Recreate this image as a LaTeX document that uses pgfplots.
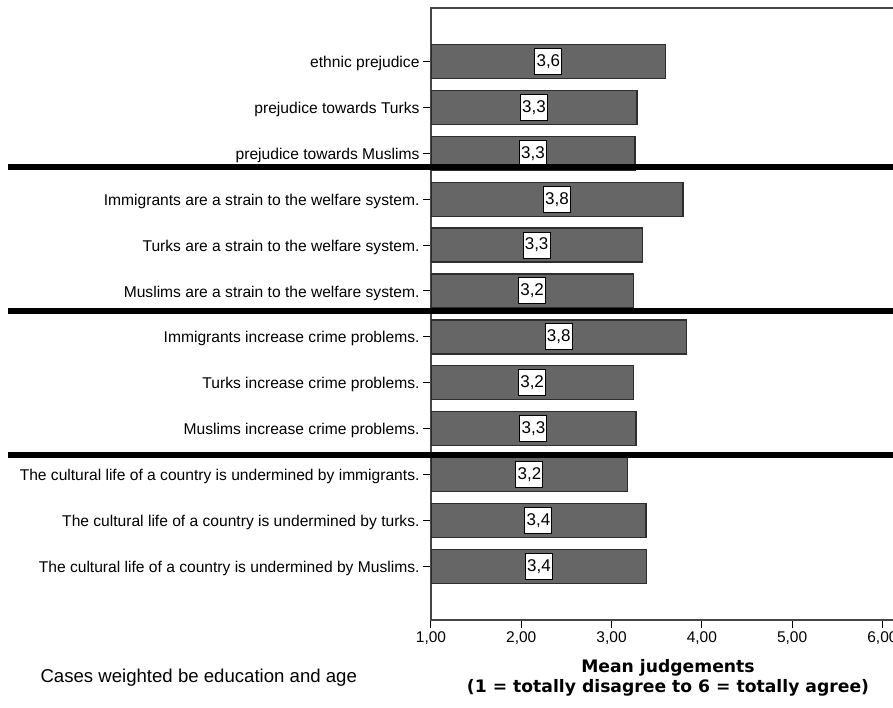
\documentclass[border=0pt]{standalone}
\usepackage{fontspec}
\setmainfont{Liberation Sans}
\newfontfamily\dejavu{DejaVu Sans}
\usepackage{pgfplots}
\pgfplotsset{compat=1.18}
\usepackage{pgfplotstable}
\definecolor{barfill}{RGB}{102,102,102}
\definecolor{barline}{RGB}{45,45,45}
\definecolor{axline}{RGB}{70,70,70}

\pgfplotstableread{
y v
12 3.60
11 3.28
10 3.26
9 3.79
8 3.34
7 3.24
6 3.83
5 3.24
4 3.27
3 3.18
2 3.38
1 3.39
}\meandata

\begin{document}
\begin{tikzpicture}
\begin{axis}[
  name=ax,
  at={(0pt,0pt)}, anchor=south west,
  scale only axis,
  width=474pt, height=612pt,
  xmin=1, xmax=6.25,
  ymin=-0.168, ymax=13.166,
  axis line style={axline, line width=1.2pt},
  xtick={1,2,3,4,5,6},
  ytick={1,2,3,4,5,6,7,8,9,10,11,12},
  yticklabels={
    The cultural life of a country is undermined by Muslims.,
    The cultural life of a country is undermined by turks.,
    The cultural life of a country is undermined by immigrants.,
    Muslims increase crime problems.,
    Turks increase crime problems.,
    Immigrants increase crime problems.,
    Muslims are a strain to the welfare system.,
    Turks are a strain to the welfare system.,
    Immigrants are a strain to the welfare system.,
    prejudice towards Muslims,
    prejudice towards Turks,
    ethnic prejudice},
  xtick pos=bottom, ytick pos=left,
  tick align=outside,
  major tick length=8pt,
  tick style={black, line width=1pt},
  x tick label style={font=\fontsize{15.5}{17}\selectfont},
  y tick label style={font=\fontsize{15.6}{17}\selectfont, yshift=-2pt},
  xticklabel={\pgfmathprintnumber[fixed, fixed zerofill, precision=2, use comma, assume math mode=true]{\tick}},
  xlabel={Mean judgements\\(1 = totally disagree to 6 = totally agree)},
  xlabel style={font=\dejavu\bfseries\fontsize{17.2}{20}\selectfont, align=center,
    at={(axis description cs:0.5,0)}, anchor=center, yshift=-58pt},
]
\addplot[xbar, bar width=34pt, fill=barfill, draw=barline, line width=1.3pt]
  table[x=v, y=y] {\meandata};
\addplot[draw=none, mark=none,
  nodes near coords={\pgfmathprintnumber[fixed, fixed zerofill, precision=1, use comma, assume math mode=true]{\pgfplotspointmeta}},
  every node near coord/.append style={anchor=center, fill=white, draw=black, line width=1pt,
    inner sep=0pt, minimum width=27pt, minimum height=26pt, font=\fontsize{17}{19}\selectfont},
  point meta=explicit]
  table[x expr={(\thisrow{v}+1)/2}, y=y, meta=v] {\meandata};
\coordinate (L1) at (axis cs:1,9.70);
\coordinate (L2) at (axis cs:1,6.56);
\coordinate (L3) at (axis cs:1,3.43);
\end{axis}
\foreach \c in {L1,L2,L3}{
  \draw[black, line width=5.5pt] ([xshift=-423pt]\c) -- ([xshift=470pt]\c);
}
\node[anchor=west, font=\fontsize{18.6}{20}\selectfont] at (-394pt,-58pt) {Cases weighted be education and age};
\pgfresetboundingbox
\path[use as bounding box] (-431pt,-88pt) rectangle (462pt,620pt);
\end{tikzpicture}
\end{document}
